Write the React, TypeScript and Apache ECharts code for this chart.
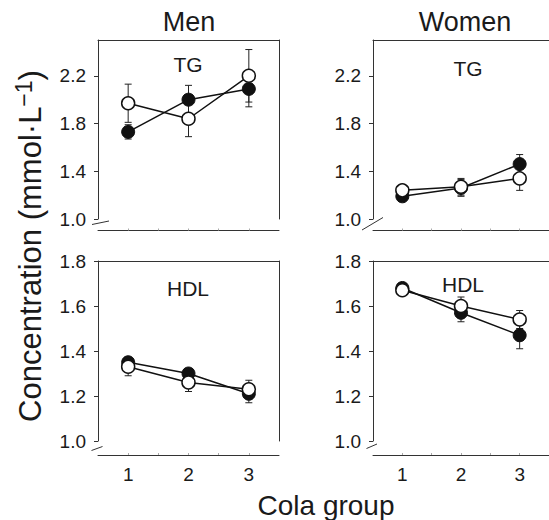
import React, { useEffect, useRef } from "react";
import * as echarts from "echarts";

// ---- data ----
const groups = [1, 2, 3];

const menTgFilled = [1.73, 2.0, 2.09];
const menTgFilledSe = [0.06, 0.12, 0.15];
const menTgOpen = [1.97, 1.84, 2.2];
const menTgOpenSe = [0.16, 0.15, 0.22];

const womenTgFilled = [1.19, 1.26, 1.46];
const womenTgFilledSe = [0.03, 0.07, 0.08];
const womenTgOpen = [1.24, 1.27, 1.34];
const womenTgOpenSe = [0.03, 0.07, 0.1];

const menHdlFilled = [1.35, 1.3, 1.21];
const menHdlFilledSe = [0.02, 0.02, 0.04];
const menHdlOpen = [1.33, 1.26, 1.23];
const menHdlOpenSe = [0.04, 0.04, 0.04];

const womenHdlFilled = [1.68, 1.57, 1.47];
const womenHdlFilledSe = [0.02, 0.04, 0.06];
const womenHdlOpen = [1.67, 1.6, 1.54];
const womenHdlOpenSe = [0.02, 0.04, 0.04];

const tgTicks = [1.0, 1.4, 1.8, 2.2];
const hdlTicks = [1.0, 1.2, 1.4, 1.6, 1.8];
const xTickLabels = [1, 2, 3];
const xMinorTicks = [1, 1.5, 2, 2.5, 3];

const columnTitles = ["Men", "Women"];
const panelLabels = ["TG", "TG", "HDL", "HDL"];
const yTitleMain = "Concentration (mmol·L";
const yTitleSup = "−1";
const xTitle = "Cola group";

const FONT = '"Liberation Sans", Arial, Helvetica, sans-serif';
const INK = "#1a1a1a";
const AXIS = "#333";

const panels = [
  { filled: menTgFilled, filledSe: menTgFilledSe, open: menTgOpen, openSe: menTgOpenSe, min: 1.0, max: 2.5, interval: 0.4, ticks: tgTicks, xLabels: false, offset: 11.5 },
  { filled: womenTgFilled, filledSe: womenTgFilledSe, open: womenTgOpen, openSe: womenTgOpenSe, min: 1.0, max: 2.5, interval: 0.4, ticks: tgTicks, xLabels: false, offset: 11.5 },
  { filled: menHdlFilled, filledSe: menHdlFilledSe, open: menHdlOpen, openSe: menHdlOpenSe, min: 1.0, max: 1.8, interval: 0.2, ticks: hdlTicks, xLabels: true, offset: 14 },
  { filled: womenHdlFilled, filledSe: womenHdlFilledSe, open: womenHdlOpen, openSe: womenHdlOpenSe, min: 1.0, max: 1.8, interval: 0.2, ticks: hdlTicks, xLabels: true, offset: 14 },
];

const gridBoxes = [
  { left: 98, top: 40, width: 181, height: 179 },
  { left: 373, top: 40, width: 182, height: 179 },
  { left: 98, top: 261, width: 181, height: 180 },
  { left: 373, top: 261, width: 182, height: 180 },
];

function errorBarRender(params: any, api: any) {
  const x = api.value(0);
  const lo = api.coord([x, api.value(1)]);
  const hi = api.coord([x, api.value(2)]);
  const cap = 3.5;
  const style = { stroke: "#222", lineWidth: 1 };
  return {
    type: "group",
    children: [
      { type: "line", shape: { x1: lo[0], y1: lo[1], x2: hi[0], y2: hi[1] }, style },
      { type: "line", shape: { x1: hi[0] - cap, y1: hi[1], x2: hi[0] + cap, y2: hi[1] }, style },
      { type: "line", shape: { x1: lo[0] - cap, y1: lo[1], x2: lo[0] + cap, y2: lo[1] }, style },
    ],
  };
}

function buildOption() {
  const xAxis: any[] = [];
  const yAxis: any[] = [];
  const series: any[] = [];
  panels.forEach((p, i) => {
    xAxis.push({
      type: "value",
      gridIndex: i,
      min: 0.5,
      max: 3.5,
      interval: 0.5,
      position: "bottom",
      offset: p.offset,
      splitLine: { show: false },
      axisLine: { show: true, lineStyle: { color: AXIS, width: 1 } },
      axisTick: { show: true, inside: true, length: 2, customValues: xMinorTicks, lineStyle: { color: "#aaa" } },
      axisLabel: {
        show: p.xLabels,
        customValues: xTickLabels,
        margin: 10,
        fontSize: 19,
        fontFamily: FONT,
        color: INK,
        formatter: (v: number) => (Number.isInteger(v) && v >= 1 && v <= 3 ? String(v) : ""),
      },
    });
    xAxis.push({
      type: "value",
      gridIndex: i,
      min: 0.5,
      max: 3.5,
      position: "top",
      splitLine: { show: false },
      axisLine: { show: true, lineStyle: { color: AXIS, width: 1 } },
      axisTick: { show: false },
      axisLabel: { show: false },
    });
    yAxis.push({
      type: "value",
      gridIndex: i,
      min: p.min,
      max: p.max,
      interval: p.interval,
      position: "left",
      splitLine: { show: false },
      axisLine: { show: true, lineStyle: { color: AXIS, width: 1 } },
      axisTick: { show: true, length: 4, customValues: p.ticks, lineStyle: { color: AXIS } },
      axisLabel: {
        customValues: p.ticks,
        margin: 12,
        fontSize: 19,
        fontFamily: FONT,
        color: INK,
        formatter: (v: number) => v.toFixed(1),
      },
    });
    yAxis.push({
      type: "value",
      gridIndex: i,
      min: p.min,
      max: p.max,
      position: "right",
      splitLine: { show: false },
      axisLine: { show: true, lineStyle: { color: AXIS, width: 1 } },
      axisTick: { show: false },
      axisLabel: { show: false },
    });
    const xi = 2 * i;
    const yi = 2 * i;
    series.push({
      type: "custom",
      xAxisIndex: xi,
      yAxisIndex: yi,
      renderItem: errorBarRender,
      data: groups.map((g, k) => [g, p.filled[k] - p.filledSe[k], p.filled[k] + p.filledSe[k]]),
      z: 1,
      silent: true,
    });
    series.push({
      type: "custom",
      xAxisIndex: xi,
      yAxisIndex: yi,
      renderItem: errorBarRender,
      data: groups.map((g, k) => [g, p.open[k] - p.openSe[k], p.open[k] + p.openSe[k]]),
      z: 1,
      silent: true,
    });
    series.push({
      type: "line",
      xAxisIndex: xi,
      yAxisIndex: yi,
      data: groups.map((g, k) => [g, p.filled[k]]),
      symbol: "circle",
      symbolSize: 13,
      lineStyle: { color: "#111", width: 1.5 },
      itemStyle: { color: "#111", borderColor: "#111", borderWidth: 1 },
      z: 2,
      silent: true,
    });
    series.push({
      type: "line",
      xAxisIndex: xi,
      yAxisIndex: yi,
      data: groups.map((g, k) => [g, p.open[k]]),
      symbol: "circle",
      symbolSize: 13,
      lineStyle: { color: "#111", width: 1.5 },
      itemStyle: { color: "#fff", borderColor: "#111", borderWidth: 1.5 },
      z: 3,
      silent: true,
    });
  });

  const textStyle = (size: number) => ({ fontSize: size, fontFamily: FONT, fill: INK });
  const graphic: any[] = [
    { type: "text", x: 189, y: 22, style: { text: columnTitles[0], align: "center", verticalAlign: "middle", ...textStyle(27) } },
    { type: "text", x: 465, y: 22, style: { text: columnTitles[1], align: "center", verticalAlign: "middle", ...textStyle(27) } },
    { type: "text", x: 188, y: 64, style: { text: panelLabels[0], align: "center", verticalAlign: "middle", ...textStyle(21) } },
    { type: "text", x: 468, y: 68, style: { text: panelLabels[1], align: "center", verticalAlign: "middle", ...textStyle(21) } },
    { type: "text", x: 188, y: 288, style: { text: panelLabels[2], align: "center", verticalAlign: "middle", ...textStyle(21) } },
    { type: "text", x: 463, y: 284, style: { text: panelLabels[3], align: "center", verticalAlign: "middle", ...textStyle(21) } },
    { type: "text", x: 326, y: 505, style: { text: xTitle, align: "center", verticalAlign: "middle", ...textStyle(28) } },
    {
      type: "text",
      x: 30,
      y: 246,
      rotation: Math.PI / 2,
      style: {
        text: "{a|" + yTitleMain + "}{s|" + yTitleSup + "}{a|)}",
        align: "center",
        verticalAlign: "middle",
        fontFamily: FONT,
        fill: INK,
        rich: {
          a: { fontSize: 31, fontFamily: FONT, fill: INK, lineHeight: 36 },
          s: { fontSize: 23, fontFamily: FONT, fill: INK, verticalAlign: "top", lineHeight: 36 },
        },
      },
    },
    { type: "line", shape: { x1: 92, y1: 224.5, x2: 109, y2: 221 }, style: { stroke: AXIS, lineWidth: 1 } },
    { type: "line", shape: { x1: 362, y1: 230, x2: 383, y2: 217.5 }, style: { stroke: AXIS, lineWidth: 1 } },
    { type: "line", shape: { x1: 91.5, y1: 450.5, x2: 102.5, y2: 446.5 }, style: { stroke: AXIS, lineWidth: 1 } },
    { type: "line", shape: { x1: 366.5, y1: 448.5, x2: 377, y2: 444 }, style: { stroke: AXIS, lineWidth: 1 } },
  ];

  return {
    animation: false,
    backgroundColor: "#fff",
    grid: gridBoxes.map((g) => ({ ...g, containLabel: false })),
    xAxis,
    yAxis,
    series,
    graphic,
  };
}

export default function App() {
  const ref = useRef<HTMLDivElement>(null);
  useEffect(() => {
    const chart = echarts.init(ref.current!, null, { renderer: "svg" });
    chart.setOption(buildOption() as any);
    return () => chart.dispose();
  }, []);
  return (
    <div
      ref={ref}
      style={{ position: "fixed", left: 0, top: 0, width: 549, height: 520, background: "#fff" }}
    />
  );
}
